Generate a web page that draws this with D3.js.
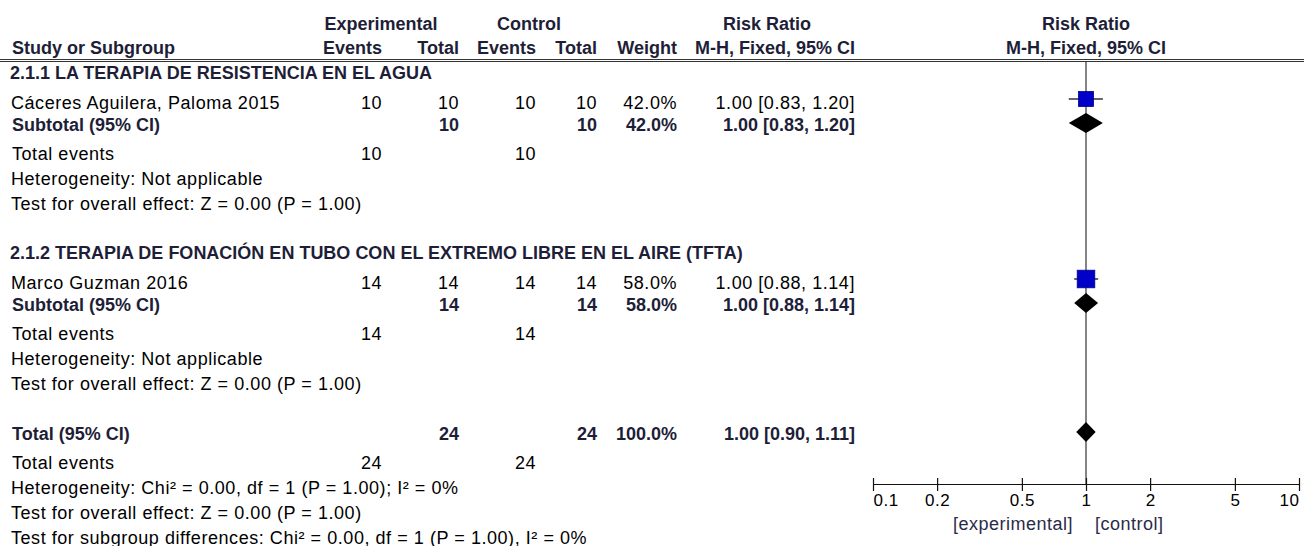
<!DOCTYPE html>
<html>
<head>
<meta charset="utf-8">
<script src="https://cdn.jsdelivr.net/npm/d3@7"></script>
<style>
  html, body { margin: 0; padding: 0; background: #fff; }
  svg { display: block; font-family: "Liberation Sans", Arial, sans-serif; }
  .n { font-size: 18px; letter-spacing: 0.55px; fill: #000; }
  .b { font-size: 18px; font-weight: bold; fill: #1e1e38; }
  .fav { font-size: 18px; letter-spacing: 0.5px; fill: #2a2a48; }
</style>
</head>
<body>
<svg id="chart" width="1304" height="546"></svg>
<script>
// ---- Data -------------------------------------------------------------
const subgroupTitles = [
  "2.1.1 LA TERAPIA DE RESISTENCIA EN EL AGUA",
  "2.1.2 TERAPIA DE FONACIÓN EN TUBO CON EL EXTREMO LIBRE EN EL AIRE (TFTA)"
];
const studyNames   = ["Cáceres Aguilera, Paloma 2015", "Marco Guzman 2016"];
const expEvents    = [10, 14];
const expTotal     = [10, 14];
const ctrlEvents   = [10, 14];
const ctrlTotal    = [10, 14];
const studyWeight  = [42.0, 58.0];
const studyRR      = [1.00, 1.00];
const studyLow     = [0.83, 0.88];
const studyHigh    = [1.20, 1.14];

const subtotalExpTotal   = [10, 14];
const subtotalCtrlTotal  = [10, 14];
const subtotalExpEvents  = [10, 14];
const subtotalCtrlEvents = [10, 14];
const subtotalWeight     = [42.0, 58.0];
const subtotalRR         = [1.00, 1.00];
const subtotalLow        = [0.83, 0.88];
const subtotalHigh       = [1.20, 1.14];
const subgroupHeterogeneity = ["Heterogeneity: Not applicable", "Heterogeneity: Not applicable"];
const subgroupEffect = [
  "Test for overall effect: Z = 0.00 (P = 1.00)",
  "Test for overall effect: Z = 0.00 (P = 1.00)"
];

const totalExpTotal = 24, totalCtrlTotal = 24;
const totalExpEvents = 24, totalCtrlEvents = 24;
const totalWeight = 100.0;
const totalRR = 1.00, totalLow = 0.90, totalHigh = 1.11;
const overallNotes = [
  "Heterogeneity: Chi² = 0.00, df = 1 (P = 1.00); I² = 0%",
  "Test for overall effect: Z = 0.00 (P = 1.00)",
  "Test for subgroup differences: Chi² = 0.00, df = 1 (P = 1.00), I² = 0%"
];

const axisTicks      = [0.1, 0.2, 0.5, 1, 2, 5, 10];
const axisTickLabels = ["0.1", "0.2", "0.5", "1", "2", "5", "10"];
const favoursLabels  = ["[experimental]", "[control]"];

// ---- Layout -----------------------------------------------------------
const svg = d3.select("#chart");
const col = { name: 11, expEv: 382, expTot: 459, ctrlEv: 536, ctrlTot: 597, weight: 677, rr: 855 };
const groupTop = [79, 259];           // baseline of each subgroup title
const off = { study: 30, subtotal: 52, events: 81, het: 106, effect: 131 };
const totalY = 440;
const axisY = 484;

const x = d3.scaleLog().domain([0.1, 10]).range([873, 1299]);
const boxSize = d3.scaleSqrt().domain([0, 100]).range([0, 23.1]);
const f2 = d3.format(".2f");
const f1 = d3.format(".1f");
const ciText = (r, lo, hi) => `${f2(r)} [${f2(lo)}, ${f2(hi)}]`;

function txt(str, xPos, y, cls, anchor) {
  return svg.append("text").attr("class", cls).attr("x", xPos).attr("y", y)
    .attr("text-anchor", anchor || "start").text(str);
}

// ---- Column headers ---------------------------------------------------
txt("Experimental", 381, 30, "b", "middle");
txt("Control", 529, 30, "b", "middle");
txt("Risk Ratio", 767, 30, "b", "middle");
txt("Risk Ratio", x(1), 30, "b", "middle");
txt("Study or Subgroup", 12, 54, "b");
txt("Events", col.expEv, 54, "b", "end");
txt("Total", col.expTot, 54, "b", "end");
txt("Events", col.ctrlEv, 54, "b", "end");
txt("Total", col.ctrlTot, 54, "b", "end");
txt("Weight", col.weight, 54, "b", "end");
txt("M-H, Fixed, 95% CI", col.rr, 54, "b", "end");
txt("M-H, Fixed, 95% CI", x(1), 54, "b", "middle");

svg.append("line").attr("x1", 0).attr("x2", 1304).attr("y1", 59.5).attr("y2", 59.5)
  .attr("stroke", "#333").attr("stroke-width", 1);
svg.append("line").attr("x1", 0).attr("x2", 1304).attr("y1", 61.5).attr("y2", 61.5)
  .attr("stroke", "#333").attr("stroke-width", 1);

// ---- Line of no effect ------------------------------------------------
svg.append("line").attr("x1", x(1)).attr("x2", x(1)).attr("y1", 62).attr("y2", axisY)
  .attr("stroke", "#333").attr("stroke-width", 1.2);

// ---- Subgroups --------------------------------------------------------
function diamond(rr, lo, hi, cy) {
  const h = 10;
  svg.append("polygon")
    .attr("points", [[x(lo), cy], [x(rr), cy - h], [x(hi), cy], [x(rr), cy + h]].map(p => p.join(",")).join(" "))
    .attr("fill", "#000");
}

subgroupTitles.forEach((title, i) => {
  const g = groupTop[i];
  txt(title, 10, g, "b");

  // study row
  const ys = g + off.study;
  txt(studyNames[i], col.name, ys, "n");
  txt(expEvents[i], col.expEv, ys, "n", "end");
  txt(expTotal[i], col.expTot, ys, "n", "end");
  txt(ctrlEvents[i], col.ctrlEv, ys, "n", "end");
  txt(ctrlTotal[i], col.ctrlTot, ys, "n", "end");
  txt(f1(studyWeight[i]) + "%", col.weight, ys, "n", "end");
  txt(ciText(studyRR[i], studyLow[i], studyHigh[i]), col.rr, ys, "n", "end");

  const cy = ys - 10;
  svg.append("line").attr("x1", x(studyLow[i])).attr("x2", x(studyHigh[i]))
    .attr("y1", cy).attr("y2", cy).attr("stroke", "#333").attr("stroke-width", 1.5);
  const s = boxSize(studyWeight[i]);
  svg.append("rect").attr("x", x(studyRR[i]) - s / 2).attr("y", cy - s / 2)
    .attr("width", s).attr("height", s)
    .attr("fill", "#0000c8").attr("stroke", "#00008a").attr("stroke-width", 0.8);

  // subtotal row
  const yt = g + off.subtotal;
  txt("Subtotal (95% CI)", 12, yt, "b");
  txt(subtotalExpTotal[i], col.expTot, yt, "b", "end");
  txt(subtotalCtrlTotal[i], col.ctrlTot, yt, "b", "end");
  txt(f1(subtotalWeight[i]) + "%", col.weight, yt, "b", "end");
  txt(ciText(subtotalRR[i], subtotalLow[i], subtotalHigh[i]), col.rr, yt, "b", "end");
  diamond(subtotalRR[i], subtotalLow[i], subtotalHigh[i], yt - 8);

  // notes
  const ye = g + off.events;
  txt("Total events", 12, ye, "n");
  txt(subtotalExpEvents[i], col.expEv, ye, "n", "end");
  txt(subtotalCtrlEvents[i], col.ctrlEv, ye, "n", "end");
  txt(subgroupHeterogeneity[i], 11, g + off.het, "n");
  txt(subgroupEffect[i], 11, g + off.effect, "n");
});

// ---- Overall ----------------------------------------------------------
txt("Total (95% CI)", 12, totalY, "b");
txt(totalExpTotal, col.expTot, totalY, "b", "end");
txt(totalCtrlTotal, col.ctrlTot, totalY, "b", "end");
txt(f1(totalWeight) + "%", col.weight, totalY, "b", "end");
txt(ciText(totalRR, totalLow, totalHigh), col.rr, totalY, "b", "end");
diamond(totalRR, totalLow, totalHigh, totalY - 8);

txt("Total events", 12, 469, "n");
txt(totalExpEvents, col.expEv, 469, "n", "end");
txt(totalCtrlEvents, col.ctrlEv, 469, "n", "end");
overallNotes.forEach((note, i) => txt(note, 11, 494 + i * 25, "n"));

// ---- Axis -------------------------------------------------------------
const axis = d3.axisBottom(x)
  .tickValues(axisTicks)
  .tickFormat((d, i) => axisTickLabels[i])
  .tickSizeInner(7)
  .tickSizeOuter(0);

const gAxis = svg.append("g")
  .attr("transform", `translate(0,${axisY})`)
  .call(axis)
  .attr("font-family", "'Liberation Sans', Arial, sans-serif")
  .attr("font-size", 17);

gAxis.select(".domain").attr("stroke", "#111").attr("stroke-width", 1.2);
gAxis.selectAll(".tick line").attr("y1", -6).attr("y2", 7).attr("stroke", "#111").attr("stroke-width", 1.2);
const lastTick = axisTicks.length - 1;
gAxis.selectAll(".tick text")
  .attr("y", 22).attr("dy", null)
  .attr("fill", "#000")
  .attr("letter-spacing", "0.5px")
  .attr("text-anchor", (d, i) => i === 0 ? "start" : i === lastTick ? "end" : "middle");

txt(favoursLabels[0], x(1) - 13, 530, "fav", "end");
txt(favoursLabels[1], x(1) + 9, 530, "fav", "start");
</script>
</body>
</html>
